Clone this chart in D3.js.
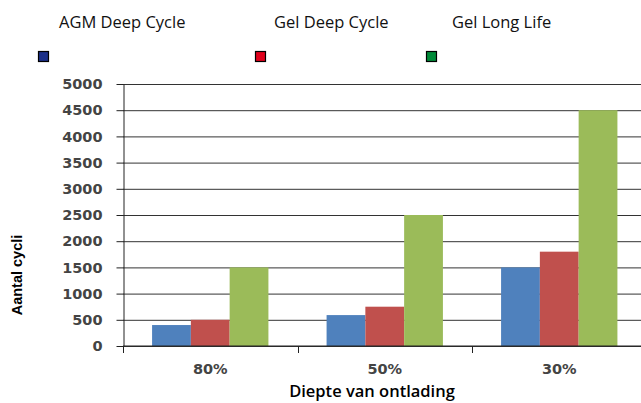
<!doctype html>
<html>
<head>
<meta charset="utf-8">
<title>Aantal cycli</title>
<style>
    body { margin: 0; background: #fff; }
    .grid line { stroke: #333; stroke-width: 1; }
    .grid path { display: none; }
    .yaxis text, .xaxis text { font-family: "DejaVu Sans", Verdana, sans-serif; font-weight: bold; font-size: 14.5px; fill: #444; }
    .yaxis line, .yaxis path { stroke: #222; }
    .xaxis path { display: none; }
    .legend text { font-family: "Open Sans", sans-serif; font-size: 16.5px; fill: #111; }
</style>
<script src="https://d3js.org/d3.v7.min.js"></script>
</head>
<body>
<svg width="641" height="403"></svg>
<script>

    var categories = ["80%", "50%", "30%"];
    var series = ["AGM Deep Cycle", "Gel Deep Cycle", "Gel Long Life"];
    var agmDeep = [400, 590, 1500];
    var gelDeep = [500, 750, 1800];
    var gelLong = [1500, 2500, 4500];
    var yTicks = [0, 500, 1000, 1500, 2000, 2500, 3000, 3500, 4000, 4500, 5000];
    var barColors = ["#4f81bd", "#c0504d", "#9bbb59"];
    var legendColors = ["#1b2f88", "#e0001b", "#008a38"];

    var values = [agmDeep, gelDeep, gelLong];

    var svg = d3.select("svg"),
        plotLeft = 123, plotRight = 646.5, plotTop = 84, plotBottom = 346;

    var x0 = d3.scaleBand().domain(categories).range([plotLeft, plotRight]);
    var x1 = d3.scaleBand().domain(series).range([0, x0.bandwidth()])
        .paddingInner(0).paddingOuter(0.75);
    var y = d3.scaleLinear().domain([0, 5000]).range([plotBottom, plotTop]);

    // grid lines
    svg.append("g")
        .attr("class", "grid")
        .attr("transform", "translate(" + plotLeft + ",0)")
        .call(d3.axisLeft(y).tickValues(yTicks).tickSize(-(641 - plotLeft)).tickFormat(""));

    // bars
    var groups = svg.selectAll(".grp")
        .data(categories)
        .enter().append("g")
        .attr("class", "grp")
        .attr("transform", function(d) { return "translate(" + x0(d) + ",0)"; });

    groups.selectAll("rect")
        .data(function(d, i) {
            return series.map(function(s, j) { return { s: s, v: values[j][i], j: j }; });
        })
        .enter().append("rect")
        .attr("x", function(d) { return x1(d.s); })
        .attr("width", x1.bandwidth())
        .attr("y", function(d) { return y(d.v); })
        .attr("height", function(d) { return plotBottom - y(d.v); })
        .attr("fill", function(d) { return barColors[d.j]; });

    // x axis line + category ticks
    svg.append("line")
        .attr("x1", plotLeft).attr("x2", 641)
        .attr("y1", plotBottom).attr("y2", plotBottom)
        .attr("stroke", "#222");

    var bounds = categories.map(function(c) { return x0(c); }).concat([plotRight]);
    svg.selectAll(".ctick")
        .data(bounds)
        .enter().append("line")
        .attr("class", "ctick")
        .attr("x1", function(d) { return Math.round(d) + 0.5; })
        .attr("x2", function(d) { return Math.round(d) + 0.5; })
        .attr("y1", plotBottom).attr("y2", plotBottom + 7)
        .attr("stroke", "#222");

    svg.append("g")
        .attr("class", "xaxis")
        .attr("transform", "translate(0," + plotBottom + ")")
        .call(d3.axisBottom(x0).tickSize(0).tickPadding(18));

    // y axis
    svg.append("g")
        .attr("class", "yaxis")
        .attr("transform", "translate(" + (plotLeft + 0.5) + ",0)")
        .call(d3.axisLeft(y).tickValues(yTicks).tickFormat(d3.format("d"))
            .tickSize(7).tickPadding(14).tickSizeOuter(0));

    // axis titles
    svg.append("text")
        .attr("transform", "translate(22,275) rotate(-90)")
        .attr("text-anchor", "middle")
        .style("font-family", "'Liberation Sans', Arial, sans-serif")
        .style("font-weight", "bold")
        .style("font-size", "14.5px")
        .text("Aantal cycli");

    svg.append("text")
        .attr("x", 372).attr("y", 397)
        .attr("text-anchor", "middle")
        .style("font-family", "'Open Sans', sans-serif")
        .style("font-weight", "600")
        .style("font-size", "16.5px")
        .text("Diepte van ontlading");

    // legend
    var legendX = [38, 255, 426];
    var legendTextX = [59, 274, 452];
    var lg = svg.append("g").attr("class", "legend");
    series.forEach(function(s, i) {
        lg.append("text").attr("x", legendTextX[i]).attr("y", 28).text(s);
        lg.append("rect")
            .attr("x", legendX[i] + 0.5).attr("y", 51.5)
            .attr("width", 10).attr("height", 10)
            .attr("fill", legendColors[i])
            .attr("stroke", "#000").attr("stroke-width", 1.2);
    });

</script>
</body>
</html>
